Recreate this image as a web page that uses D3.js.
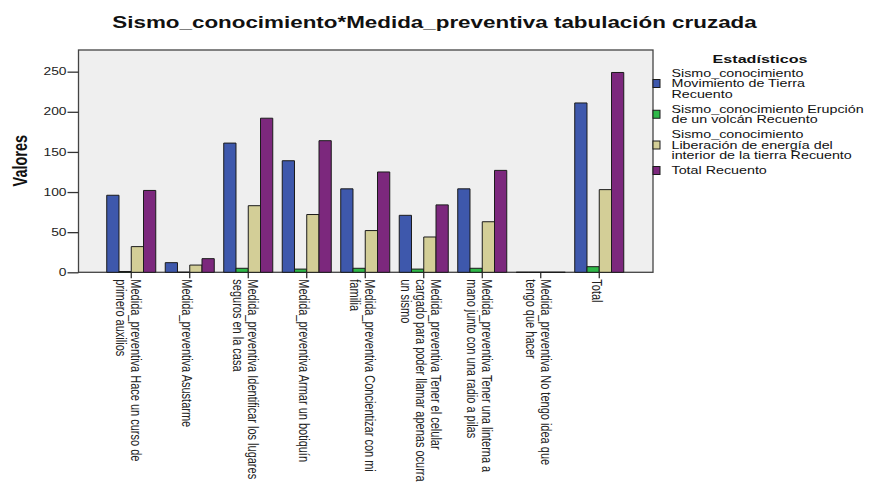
<!DOCTYPE html>
<html>
<head>
<meta charset="utf-8">
<script src="https://cdn.jsdelivr.net/npm/d3@7"></script>
<style>
  html, body { margin: 0; padding: 0; background: #fff; }
  svg { display: block; font-family: "Liberation Sans", Arial, sans-serif; }
</style>
</head>
<body>
<svg id="chart" width="871" height="485"></svg>
<script>
// ---- data ----
const categories = [
  ["Medida_preventiva Hace un curso de", "primero auxilios"],
  ["Medida_preventiva Asustarme"],
  ["Medida_preventiva Identificar los lugares", "seguros en la casa"],
  ["Medida_preventiva Armar un botiquín"],
  ["Medida_preventiva Concientizar con mi", "familia"],
  ["Medida_preventiva Tener el celular", "cargado para poder llamar apenas ocurra", "un sismo"],
  ["Medida_preventiva Tener una linterna a", "mano junto con una radio a pilas"],
  ["Medida_preventiva No tengo idea que", "tengo que hacer"],
  ["Total"]
];
const movimiento = [96, 12, 161, 139, 104, 71, 104, 0, 211];
const erupcion   = [1, 0, 5, 4, 5, 4, 5, 0, 7];
const liberacion = [32, 9, 83, 72, 52, 44, 63, 0, 103];
const total      = [102, 17, 192, 164, 125, 84, 127, 0, 249];
const seriesNames = [
  ["Sismo_conocimiento", "Movimiento de Tierra", "Recuento"],
  ["Sismo_conocimiento Erupción", "de un volcán Recuento"],
  ["Sismo_conocimiento", "Liberación de energía del", "interior de la tierra Recuento"],
  ["Total  Recuento"]
];
const seriesColors = ["#3E58AC", "#2EB848", "#D3CE97", "#7C287D"];
const yTicks = [0, 50, 100, 150, 200, 250];
const titleText = "Sismo_conocimiento*Medida_preventiva tabulación cruzada";
const yTitle = "Valores";
const legendTitle = "Estadísticos";

const seriesValues = [movimiento, erupcion, liberacion, total];

// ---- layout ----
const plot = { left: 78.5, right: 653, top: 50, bottom: 272.3 };
const svg = d3.select("#chart");

const y = d3.scaleLinear().domain([0, 277]).range([plot.bottom, plot.top]);
const x0 = d3.scaleBand().domain(d3.range(categories.length))
  .range([102, 628.5]).paddingInner(0.162).paddingOuter(0.081);
const x1 = d3.scaleBand().domain(d3.range(seriesValues.length))
  .range([0, x0.bandwidth()]);

// title
svg.append("text")
  .attr("transform", "translate(434.5,27.5) scale(1.4,1)")
  .attr("text-anchor", "middle")
  .attr("font-weight", "bold")
  .attr("font-size", 16)
  .attr("fill", "#111")
  .text(titleText);

// plot background + frame
svg.append("rect")
  .attr("x", plot.left).attr("y", plot.top)
  .attr("width", plot.right - plot.left).attr("height", plot.bottom - plot.top)
  .attr("fill", "#efefef").attr("stroke", "#444").attr("stroke-width", 1.3);

// bars
const groups = svg.append("g").selectAll("g")
  .data(categories.map((c, i) => i))
  .join("g")
  .attr("transform", i => `translate(${x0(i)},0)`);

groups.selectAll("path")
  .data(i => seriesValues.map((s, k) => ({ k, v: s[i] })))
  .join("path")
  .attr("d", d => {
    const xa = x1(d.k), xb = x1(d.k) + x1.bandwidth();
    return `M${xa},${y(0)}V${y(d.v)}H${xb}V${y(0)}Z`;
  })
  .attr("fill", d => seriesColors[d.k])
  .attr("stroke", "#1b1b1b")
  .attr("stroke-width", 1);

// y axis
const yAxis = svg.append("g")
  .attr("transform", `translate(${plot.left},0)`)
  .call(d3.axisLeft(y).tickValues(yTicks).tickSize(11).tickPadding(1));
yAxis.select(".domain").remove();
yAxis.selectAll(".tick line").attr("stroke", "#333").attr("stroke-width", 1.3);
yAxis.selectAll(".tick text")
  .attr("x", null)
  .attr("transform", "translate(-12,0) scale(1.38,1)")
  .attr("font-size", 10)
  .attr("font-family", "Liberation Sans, Arial, sans-serif")
  .attr("fill", "#222");

// y title
svg.append("text")
  .attr("transform", "translate(26.5,160.7) scale(1.35,1) rotate(-90)")
  .attr("text-anchor", "middle")
  .attr("font-weight", "bold")
  .attr("font-size", 14.5)
  .attr("fill", "#111")
  .text(yTitle);

// x axis
const xAxis = svg.append("g")
  .attr("transform", `translate(0,${plot.bottom})`)
  .call(d3.axisBottom(x0).tickSize(6).tickFormat(() => ""));
xAxis.select(".domain").remove();
xAxis.selectAll(".tick line").attr("stroke", "#222").attr("stroke-width", 1.2);
xAxis.selectAll(".tick").each(function (i) {
  const lines = categories[i];
  const n = lines.length;
  const t = d3.select(this).append("text")
    .attr("transform", "translate(0,7) scale(1.4,1) rotate(90)")
    .attr("font-size", 11)
    .attr("font-family", "Liberation Sans, Arial, sans-serif")
    .attr("fill", "#222")
    .attr("text-anchor", "start");
  lines.forEach((ln, j) => {
    t.append("tspan")
      .attr("x", 0)
      .attr("y", 5.5 + (j - (n - 1) / 2) * 10.7)
      .text(ln);
  });
});

// legend
const leg = svg.append("g");
leg.append("text")
  .attr("transform", "translate(760,63) scale(1.4,1)")
  .attr("text-anchor", "middle")
  .attr("font-weight", "bold")
  .attr("font-size", 11.5)
  .attr("fill", "#111")
  .text(legendTitle);

const lineH = 10.5, gap = 4.5;
let cy = 73;
seriesNames.forEach((lines, k) => {
  const n = lines.length;
  const center = cy + (n - 1) * lineH / 2;
  leg.append("rect")
    .attr("x", 653).attr("y", center - 4)
    .attr("width", 7).attr("height", 8)
    .attr("fill", seriesColors[k]).attr("stroke", "#1b1b1b").attr("stroke-width", 1);
  lines.forEach((ln, j) => {
    leg.append("text")
      .attr("transform", `translate(671.5,${cy + j * lineH + 3.6}) scale(1.43,1)`)
      .attr("font-size", 10)
      .attr("fill", "#111")
      .text(ln);
  });
  cy += n * lineH + gap;
});
</script>
</body>
</html>
